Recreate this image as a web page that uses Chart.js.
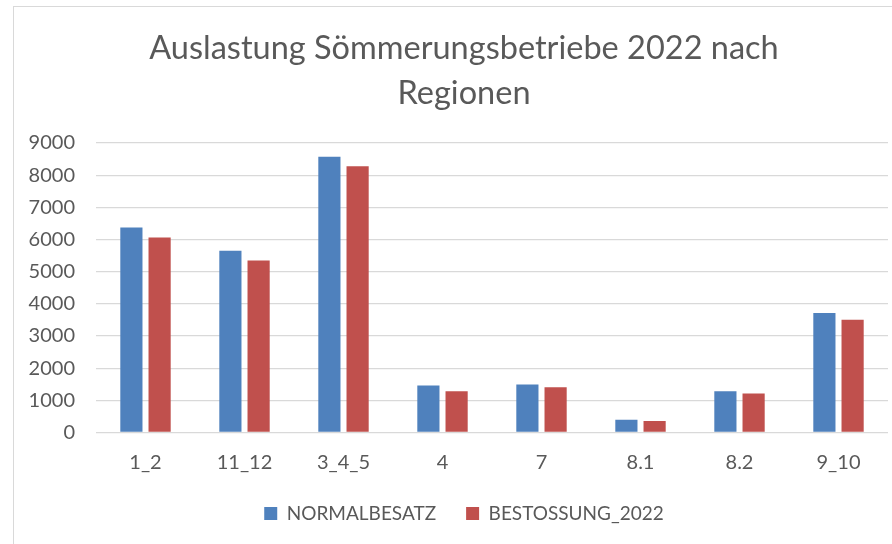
<!DOCTYPE html>
<html>
<head>
<meta charset="utf-8">
<script src="https://cdn.jsdelivr.net/npm/chart.js@4/dist/chart.umd.min.js"></script>
<style>
  html, body { margin: 0; padding: 0; background: #ffffff; overflow: hidden; }
  #frame { position: absolute; left: 13px; top: 6px; width: 1000px; height: 1000px; border: 1px solid #d9d9d9; box-sizing: border-box; }
  #wrap { position: absolute; left: 0; top: 0; width: 892px; height: 544px; }
</style>
</head>
<body>
<div id="frame"></div>
<div id="wrap"><canvas id="c" width="892" height="544"></canvas></div>
<script>
const categories = ["1_2", "11_12", "3_4_5", "4", "7", "8.1", "8.2", "9_10"];
const normalbesatz = [6370, 5650, 8575, 1460, 1490, 395, 1285, 3715];
const bestossung2022 = [6060, 5350, 8275, 1285, 1405, 360, 1210, 3505];
const seriesNames = ["NORMALBESATZ", "BESTOSSUNG_2022"];
const titleLines = ["Auslastung Sömmerungsbetriebe 2022 nach", "Regionen"];
const yMax = 9000;
const yStep = 1000;

const FONT = "Lato, 'Open Sans', 'DejaVu Sans', sans-serif";
const TEXT = "#595959";

new Chart(document.getElementById("c"), {
  type: "bar",
  data: {
    labels: categories,
    datasets: [
      { label: seriesNames[0], data: normalbesatz, backgroundColor: "#4F81BD", borderWidth: 0 },
      { label: seriesNames[1], data: bestossung2022, backgroundColor: "#C0504D", borderWidth: 0 }
    ]
  },
  options: {
    responsive: false,
    animation: false,
    devicePixelRatio: 1,
    layout: { padding: { left: 40, right: 4, top: 0, bottom: 11 } },
    datasets: { bar: { categoryPercentage: 0.57, barPercentage: 0.786 } },
    plugins: {
      tooltip: { enabled: false },
      title: {
        display: true,
        text: titleLines,
        color: TEXT,
        font: { family: FONT, size: 32.5, weight: "normal", lineHeight: 45 / 32.5 },
        padding: { top: 26, bottom: 27 }
      },
      legend: {
        position: "bottom",
        labels: {
          color: TEXT,
          font: { family: FONT, size: 19 },
          boxWidth: 13,
          boxHeight: 13,
          padding: 30
        }
      }
    },
    scales: {
      x: {
        grid: { display: false, drawTicks: false },
        border: { display: false },
        ticks: { color: TEXT, font: { family: FONT, size: 20, lineHeight: 1.2 }, padding: 18, maxRotation: 0 },
        afterFit: (s) => { s.height = 41.5; s._computeLabelArea = () => undefined; }
      },
      y: {
        min: 0,
        max: yMax,
        grid: { color: "#d9d9d9", lineWidth: 1.3, drawTicks: false },
        border: { display: false },
        ticks: {
          stepSize: yStep,
          color: TEXT,
          font: { family: FONT, size: 20 },
          padding: 21,
          callback: (v) => String(v)
        },
        afterFit: (s) => { s.width = 56; s._computeLabelArea = () => undefined; }
      }
    }
  }
});
</script>
</body>
</html>
